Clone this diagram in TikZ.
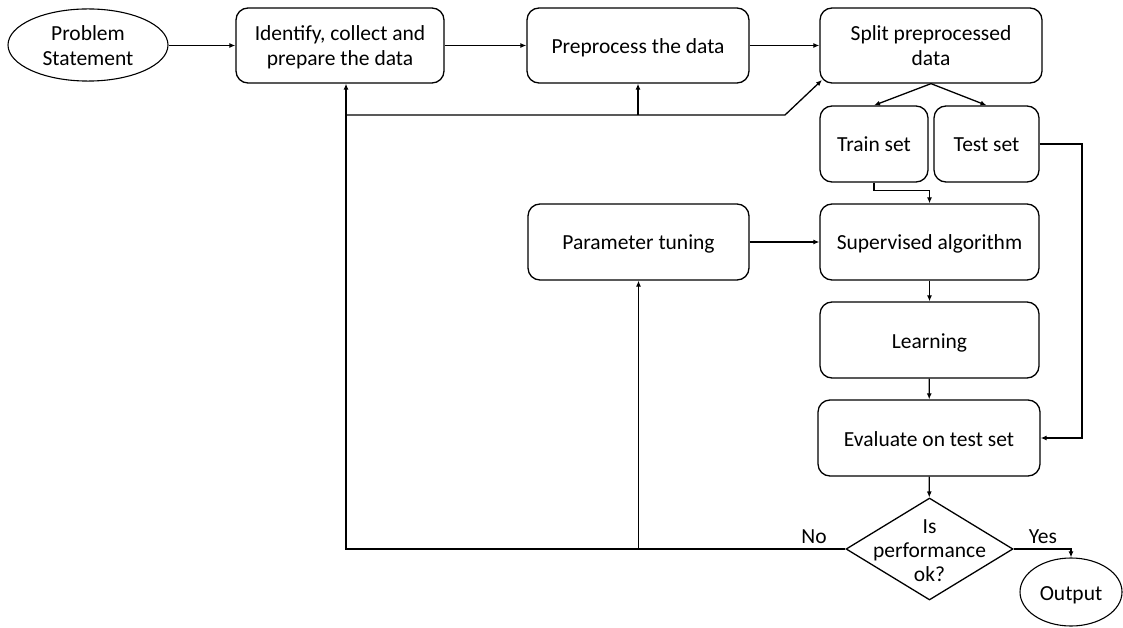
\documentclass[tikz,border=0pt]{standalone}
\usepackage{fontspec}
\setmainfont{Carlito}
\usetikzlibrary{shapes.geometric,arrows.meta,calc}
\newcommand\fr{\rule[-5pt]{0pt}{26pt}}
\newcommand\sr{\rule[-5pt]{0pt}{20pt}}
\newcommand\fdr{\rule[-4pt]{0pt}{25pt}}
\newcommand\dr{\rule[-4pt]{0pt}{19pt}}
\begin{document}
\begin{tikzpicture}[x=1pt,y=-1pt,
  txt/.style={font=\fontsize{21.5}{25}\selectfont},
  box/.style={draw, rounded corners=12pt, line width=1.3pt, align=center, inner sep=0pt, txt},
  oval/.style={draw, ellipse, line width=1.1pt, align=center, inner sep=0pt, txt},
  conn/.style={line width=1.3pt, -{Latex[length=6pt,width=5pt]}},
  lbl/.style={inner sep=0pt, txt}]
\path[use as bounding box] (0,0) rectangle (1123,628);

\node[oval, minimum width=160pt, minimum height=63pt] (ps) at (88,45) {\fr Problem\\\sr Statement};
\node[box, minimum width=208pt, minimum height=75pt] (id) at (340,45.5) {\fr Identify, collect and\\\sr prepare the data};
\node[box, minimum width=222pt, minimum height=75pt] (pre) at (638,45.5) {\fr Preprocess the data};
\node[box, minimum width=222pt, minimum height=75pt] (split) at (931,45.5) {\fr Split preprocessed\\\sr data};
\node[box, minimum width=108pt, minimum height=76pt] (train) at (874,144) {\fr Train set};
\node[box, minimum width=105pt, minimum height=76pt] (test) at (986.5,144) {\fr Test set};
\node[box, minimum width=219pt, minimum height=76pt] (sup) at (929.5,242) {\fr Supervised algorithm};
\node[box, minimum width=221pt, minimum height=76pt] (par) at (638.5,242) {\fr Parameter tuning};
\node[box, minimum width=219pt, minimum height=76pt] (learn) at (929.5,340) {\fr Learning};
\node[box, minimum width=222pt, minimum height=76pt] (eval) at (929,438) {\fr Evaluate on test set};
\node[draw, diamond, line width=1.3pt, inner sep=0pt, minimum width=167pt, minimum height=102pt] (dec) at (929.5,549) {};
\node[lbl, align=center, font=\fontsize{21.5}{24}\selectfont] (dectxt) at (929.5,549) {\fdr Is\\\dr performance\\\dr ok?};
\node[oval, minimum width=102pt, minimum height=68pt] (out) at (1071,592) {\fr Output};

\node[lbl] (no) at (814,537) {No};
\node[lbl] (yes) at (1043,537) {Yes};

\coordinate (nl) at (346,549);
\coordinate (fb) at (346,115);
\coordinate (kink) at (785,115);
\coordinate (spin) at (822,80);
\coordinate (tr) at (1082,144);

\draw[conn] (ps.east |- id.west) -- (id.west);
\draw[conn] (id) -- (pre);
\draw[conn] (pre) -- (split);
\draw[conn] (split.south) -- (train.north);
\draw[conn] (split.south) -- (test.north);
\draw[conn] (train.south) -- ++(0,8) -| (sup.north);
\draw[conn] (test.east) -- (tr) |- (eval.east);
\draw[conn] (par) -- (sup);
\draw[conn] (sup) -- (learn);
\draw[conn] (learn) -- (eval);
\draw[conn] (eval) -- (dec);
\draw[conn] (dec.east) -| (out.north);
\draw[conn] (dec.west) -- (nl) -- (nl |- id.south);
\draw[conn] (fb) -- (kink) -- (spin);
\draw[conn] (fb -| pre.south) -- (pre.south);
\draw[conn] (nl -| par.south) -- (par.south);
\end{tikzpicture}
\end{document}
